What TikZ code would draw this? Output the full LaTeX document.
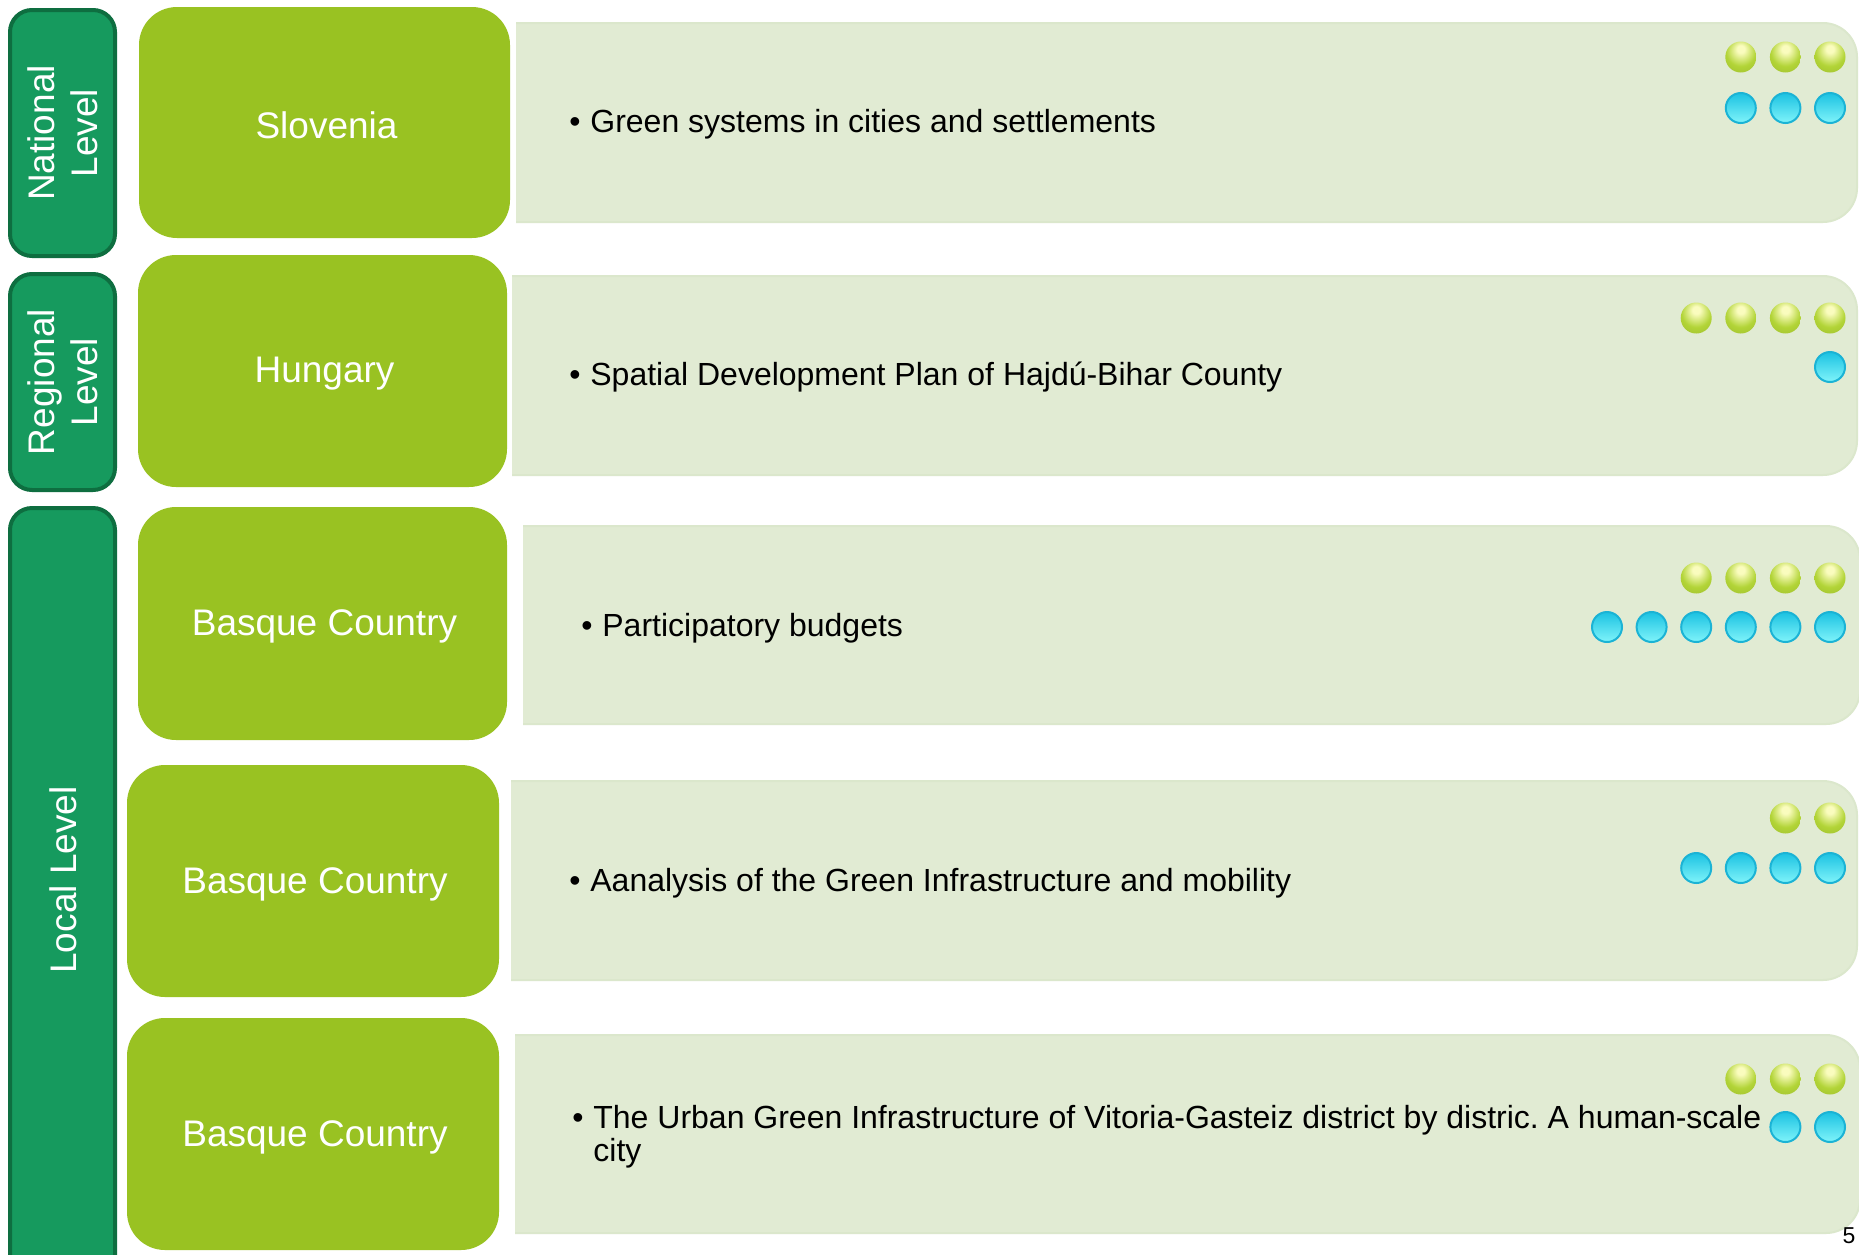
\documentclass[tikz,border=0pt]{standalone}
\usepackage{fontspec}
\setmainfont{Liberation Sans}
\usetikzlibrary{positioning}
\definecolor{levelgreen}{RGB}{22,154,94}
\definecolor{leveledge}{RGB}{14,110,64}
\definecolor{limebox}{RGB}{153,194,34}
\definecolor{panelfill}{RGB}{225,235,211}
\definecolor{paneledge}{RGB}{219,231,204}
\definecolor{ballhl}{RGB}{250,252,190}
\definecolor{ballmid}{RGB}{178,212,55}
\definecolor{balldark}{RGB}{88,108,18}
\definecolor{cyantop}{RGB}{27,194,226}
\definecolor{cyanbot}{RGB}{128,244,250}
\definecolor{cyanedge}{RGB}{27,179,213}
\pgfdeclareradialshading{greenball}{\pgfpoint{0bp}{14bp}}{%
	color(0bp)=(ballhl); color(6bp)=(ballhl); color(24bp)=(ballmid);
	color(40bp)=(ballmid!80!balldark); color(56bp)=(balldark); color(70bp)=(balldark)}
\frenchspacing

\begin{document}
\begin{tikzpicture}[
		x=0.5pt,y=-0.5pt,
		level/.style={fill=levelgreen,draw=leveledge,line width=2pt,rounded corners=11pt},
		levellbl/.style={rotate=90,text=white,align=center,font=\fontsize{18.5}{21.75}\selectfont},
		country/.style={fill=limebox,rounded corners=19pt},
		countrylbl/.style={text=white,font=\fontsize{18.5}{22}\selectfont},
		panel/.style={fill=panelfill,draw=paneledge,line width=1pt,rounded corners=17pt},
		itemlbl/.style={anchor=base west,inner sep=0pt,font=\fontsize{16}{16.5}\selectfont},
		gdot/.style={shading=greenball},
		bdot/.style={top color=cyantop,bottom color=cyanbot,draw=cyanedge,line width=1pt}
	]

	% Frame of the slide
	\useasboundingbox (0,0) rectangle (1859,1254);
	\fill[white] (0,0) rectangle (1859,1254);
	\clip (0,0) rectangle (1859,1254);

	% Level bars on the left
	\draw[level] (10,10) rectangle (115,256);
	\draw[level] (10,274) rectangle (115,490);
	\draw[level] (10,508) rectangle (115,1290);
	\node[levellbl] (national) at (63,133) {National\\Level};
	\node[levellbl] (regional) at (63,382) {Regional\\Level};
	\node[levellbl] (local) at (63,880) {Local Level};

	% Light panels, rounded on the right only
	\foreach \xa/\ya/\xb/\yb in {516/23/1857/222, 512/276/1857/475, 523/526/1860/724,
			511/781/1857/980, 515/1035/1860/1233} {
		\begin{scope}
			\clip (\xa,0) rectangle (1859,1254);
			\filldraw[panel] (\xa-40,\ya) rectangle (\xb,\yb);
		\end{scope}
	}

	% Country boxes
	\foreach \n/\xa/\ya/\xb/\yb/\txt in {1/139/7/510/238/Slovenia, 2/138/255/507/487/Hungary,
			3/138/507/507/740/Basque Country, 4/127/765/499/997/Basque Country,
			5/127/1018/499/1250/Basque Country} {
		\fill[country] (\xa,\ya) rectangle (\xb,\yb);
		\node[countrylbl] (c\n) at ({(\xa+\xb)/2+2},{(\ya+\yb)/2+3}) {\txt};
	}

	% Items
	\node[itemlbl] (item1) at (569,132.5) {\textbullet\hspace{4.9pt}Green systems in cities and settlements};
	\node[itemlbl] (item2) at (569,385) {\textbullet\hspace{4.9pt}Spatial Development Plan of Hajdú-Bihar County};
	\node[itemlbl] (item3) at (581,636) {\textbullet\hspace{4.9pt}Participatory budgets};
	\node[itemlbl] (item4) at (569,891) {\textbullet\hspace{4.9pt}Aanalysis of the Green Infrastructure and mobility};
	\node[itemlbl] (item5) at (572,1128) {\begin{tabular}[t]{@{}l@{\hspace{4.9pt}}l@{}}
			\textbullet & The Urban Green Infrastructure of Vitoria-Gasteiz district by distric. A human-scale\\
			& city
		\end{tabular}};

	% Rating dots: green spheres above, cyan circles below
	\foreach \gy/\gn/\by/\bn in {57/3/108/3, 318/4/367/1, 578/4/627/6, 818/2/868/4, 1079/3/1127/2} {
		\foreach \k in {1,...,\gn} \shade[gdot] ({1830-(\k-1)*44.6},\gy) circle[radius=15.5];
		\foreach \k in {1,...,\bn} \shade[bdot] ({1830-(\k-1)*44.6},\by) circle[radius=15];
	}

	\node[font=\fontsize{11.5}{13}\selectfont,inner sep=0pt] (pagenum) at (1849,1236) {5};
\end{tikzpicture}
\end{document}
